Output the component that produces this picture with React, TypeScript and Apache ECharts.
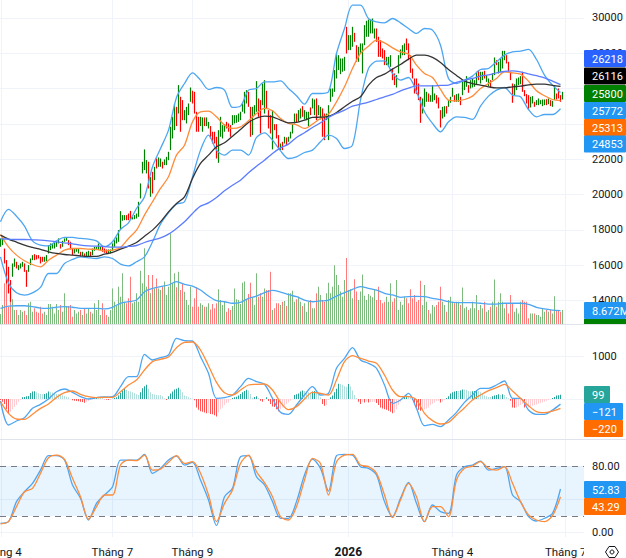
import React, { useEffect, useRef } from "react";
import * as echarts from "echarts";

// price bars: high, low, direction (g = up, r = down)
const highs = [
17510,17565,16940,16280,15905,15150,16095,16375,16190,16000,
16095,16190,16095,15715,16000,16375,16565,16620,16565,16565,
16470,16470,16470,16565,17130,17225,17225,17260,17320,17510,
17190,17375,17510,17565,17415,17320,16940,16940,16940,16940,
16755,16755,16660,16755,16810,16755,16940,17035,17035,17225,
17075,17075,16940,16885,16885,16885,17225,17415,17565,17980,
19055,18830,18830,18830,18920,19070,18735,18830,18920,19585,
20625,21850,22550,21945,21850,20990,21280,21565,22035,22095,
22035,21850,21980,22130,22415,23830,24395,25110,24960,26190,
25530,25340,24775,24960,25150,26055,25870,25810,24680,24395,
24395,24360,24360,24360,24110,23870,23550,23550,23265,23640,
24395,23925,23980,24110,24020,23925,24490,24490,24490,24580,
24680,25150,25810,25905,25810,24960,24960,25055,26415,25435,
25340,26280,26470,25870,24775,24490,24775,23980,23980,23360,
22885,22980,23265,23225,23265,23550,23980,24580,24580,24775,
24870,25000,24775,24680,24680,24925,25435,25375,25435,25055,
24960,24870,24580,24580,25055,26000,26000,27040,27980,27885,
27700,27700,27790,29490,29020,29020,29490,29150,28450,28360,
28550,28550,29585,29830,29905,29905,29960,29395,29395,28925,
28735,28265,28170,27790,27790,27885,27130,26850,26755,27885,
28210,28450,28550,28830,28550,27885,27130,26565,26565,26280,
25530,25435,26000,25810,25715,25620,26190,25715,25620,25490,
24775,24960,25000,25000,25340,25530,26035,25620,25680,25715,
25530,26470,26375,26700,26190,26470,26565,26470,26945,27040,
26945,26945,27000,26755,26565,26470,26850,27755,27600,27510,
27700,28130,28130,27885,27510,26945,26280,26245,26565,26620,
26700,26945,25905,25680,25620,25530,25565,25245,25340,25435,
25340,25375,25375,25395,25435,25340,25300,26190,25715,26000,
25620,25810];
const lows = [
17035,17130,16095,14960,14395,13920,15340,15905,15810,15715,
15810,15905,15620,14770,15620,16000,16280,16280,16320,16375,
16095,16190,16190,16225,16660,16850,16940,16940,17035,17225,
16940,17035,17320,17375,17130,16885,16565,16660,16755,16660,
16470,16510,16430,16470,16510,16470,16565,16810,16850,16850,
16850,16755,16700,16660,16660,16660,16810,17035,17225,17320,
17980,18510,18545,18545,18545,18585,18585,18600,18640,18735,
19775,21190,21380,21190,20340,19870,20055,20810,21470,21565,
21565,21470,21660,21660,21940,22510,23170,23640,23870,24580,
23550,24205,24205,24020,24490,25245,25150,24580,23550,23550,
23870,23550,23870,23870,23735,23170,22885,22885,22035,21790,
23265,23170,23550,23735,23550,23265,23925,24020,24055,24110,
24205,24680,24580,25150,24960,23265,23360,24490,24680,24395,
23450,25055,24580,24870,23735,23450,22550,23640,23170,22600,
22510,22510,22885,22790,22980,23170,23450,24020,24055,24110,
24300,24395,24245,24205,23870,24490,24870,24490,24205,24490,
24245,23265,23075,24205,23075,25245,25530,25810,26565,27040,
26810,26945,27000,27980,28170,28170,28360,28640,27510,27510,
27980,26850,28450,28925,28925,29115,29115,28830,28640,27790,
27790,27700,27320,27320,27225,27225,26470,26190,26055,26850,
27700,27885,27885,28170,27600,26885,26565,25715,25680,25340,
24055,24580,24960,25245,25245,25245,25245,25340,25150,24870,
23790,24300,24395,24580,24960,25190,25530,25245,25245,25245,
25055,25620,25905,26095,25755,26000,26055,26095,26190,26470,
26280,26470,26565,26375,26130,26055,26470,26755,27320,26850,
26945,27130,27600,27415,26945,26470,25190,25620,25905,26190,
26245,25810,25565,25150,24810,24925,25150,24960,25055,25055,
25110,25000,25055,25055,25110,25000,24960,25340,25375,25435,
25245,25375];
const directions = [
"ggrrrrggrg","ggrrgggrrr","rrgggggggg","rgggrrrggg","rgrggrgggg",
"grrrgggggg","gggrrrgggg","ggggrgrgrg","grggggggrg","rrggggrrrr",
"ggrggrrrrg","gggrrrgggg","ggggrrgggr","rggrrrgrrr","grgrggggrg",
"grgggrggrg","grrggggggg","gggrgggrrg","ggggggggrr","rrrgggrrgg",
"gggrrrrrrr","rgggrgggrr","rggrgggrgg","rgggrggggr","ggrggrggrg",
"gggrrrrggg","grrrrggrgg","gggrgrggrr","rg",
].join("");

// volume, millions
const volumes = [
6.5,12.4,26.5,41.7,11.3,28.6,16.1,9.1,9.1,5.9,
9.1,8,8.7,5.9,13.5,14.5,8,10.2,8,7.4,
11.3,6.9,8,5.9,13,13,11.3,6.9,13,9.1,
12.4,8,20,11.7,11.7,12.4,4.8,9.1,6.9,8,
9.1,5.9,10.2,6.9,10.2,8,6.9,13.5,9.1,15.6,
5.9,13.5,9.1,5.9,4.8,9.1,23.2,14.5,11.7,24.3,
17.8,33,14.5,13.5,16.7,30.8,13.5,14.5,20,14.5,
34.7,26.5,49.3,24.3,31.9,20,31.9,23.2,29.7,23.2,
22.1,24.3,27.6,18.9,24.3,59,26.5,33,23.9,34.1,
22.1,26.5,21,15.6,12.4,24.3,11.3,16.7,23.9,11.3,
13.5,12.4,11.3,11.3,13.5,9.5,13,10.2,13.5,22.6,
15.6,12.4,14.5,8,10.2,9.1,11.7,23.2,16.1,15.6,
13,26.9,27.6,15.6,19.5,26.9,17.4,12.4,33,17.8,
20,17.8,23.2,22.1,22.1,34.1,9.1,10.2,13.5,13.5,
12.4,14.5,14.9,11.7,20,20,21.7,14.5,16.1,17.8,
14.5,11.7,13.5,8,14.5,15.6,10.2,10.2,20,24.3,
18.9,15.6,14.5,20,26.9,20,24.3,38.2,31.9,25.4,
21.2,17.8,28.6,43,22.1,22.6,16.7,29.1,21.2,15.6,
21.2,32.3,18.4,15.6,19.5,18.4,17.4,22.1,15.6,24.3,
15.6,13.5,14.5,17.8,14.5,26.5,14.5,16.7,28.6,9.1,
14.5,12.4,17.8,16.7,13.5,22.6,16.7,18.9,14.5,15.6,
28.2,12.4,25.4,14.5,9.1,6.9,12.4,11.3,12.4,14.5,
24.3,14.5,12.4,8,15.6,17.8,14.5,13.5,14.5,14.5,
12.4,23.7,10.2,11.3,9.1,10.2,14.5,10.2,18.9,9.1,
12.4,10.2,14.5,8,9.1,11.3,14.5,29,11.3,14.5,
20,14.5,10.2,13.5,6.9,18.9,13.5,8,10.2,6.9,
14.5,15.6,14.5,14.5,3.7,6.9,6.9,6.9,5.9,5.9,
4.8,10.2,8,9.1,8,9.1,6.9,18,9.1,8.7,
8,9.1];

// overlays, one reading every fourth bar
const bbUpper = [
18450,19150,18770,18210,17375,17130,17090,17375,17565,17565,17510,17470,17375,17035,17320,18020,18395,19205,19870,21565,22600,23640,25490,26280,26885,26470,
25945,26055,25905,24925,25000,25905,26000,26375,26375,26430,26000,25585,25110,25715,25715,25810,27980,29395,30715,30715,29960,29775,29715,29960,29715,
29395,29115,29395,29300,28450,26565,26280,26470,26700,27075,27130,27510,27885,28075,28115,28210,27640,26755,26190,25772];
const bbLower = [
16470,14990,14430,14300,14430,14735,15525,15525,16095,16320,16470,16415,16375,16470,16375,16055,15960,16190,16470,17320,18320,18960,19450,19585,21000,22510,
23360,22510,22225,22510,22510,22225,23225,23490,23075,22470,22035,22130,22375,22510,22980,23360,23170,22600,22790,25340,27130,27545,27565,26850,26470,
26620,25810,24680,24020,23545,24110,24395,24360,24245,25000,25565,25905,26055,25620,25530,24810,24395,24525,24525,24853];
const ma20 = [
17735,17035,16565,16245,16035,15905,16280,16565,16850,16940,16940,16905,16885,16810,16850,17000,17510,17980,18830,19585,20340,21000,22225,22790,24110,24680,
24715,24395,23925,23735,23830,24170,24585,24870,24735,24300,24020,23945,23735,23980,24300,24545,25245,26095,27130,27980,28395,28735,28585,28300,28075,
27945,27320,26850,26620,25945,25340,25300,25375,25565,26000,26280,26565,26945,26885,26810,26415,25865,25585,25375,25313];
const ma50 = [
17695,17470,17300,17130,17000,16885,16755,16660,16600,16565,16525,16490,16490,16620,16715,16905,17075,17280,17640,17980,18450,19015,19490,19865,20905,21755,
22225,22700,22925,23300,23680,24075,24320,24435,24395,24205,24055,24075,24205,24360,24375,24415,24640,24960,25280,25530,26190,26620,26810,27095,27360,
27660,27885,27885,27755,27470,27075,26735,26415,26280,26190,26095,26035,26035,26095,26130,26205,26245,26245,26170,26116];
const ma200 = [
17490,17470,17450,17450,17430,17415,17375,17320,17260,17205,17130,17090,17075,17055,17015,17015,17055,17110,17280,17415,17545,17755,18075,18450,18925,19340,
19525,19830,20205,20525,20810,21225,21600,21940,22320,22640,22850,23225,23490,23790,24055,24360,24585,24775,25000,25110,25225,25375,25530,25660,25865,
26020,26150,26150,26150,26170,26190,26340,26470,26565,26700,26770,26885,26960,27000,26945,26830,26720,26605,26415,26218];
const volumeMa = [
10.2,11.7,11.9,11.9,11.3,10.4,10.2,10.9,11.3,10.9,10.2,10.2,10.2,9.8,10.9,13.5,14.5,15.6,21,23.2,24.3,25.4,27.6,25.8,24.7,22.1,
18.2,15.2,14.5,13.5,14.1,16.7,18.2,20.4,21.9,20.8,19.1,17.8,15.6,14.5,15,15.6,18.2,20.4,22.6,24.3,23.2,22.1,20,18.9,17.4,
17.8,18,17.8,16.7,15.8,14.5,13.9,13.9,13.9,13.5,13,13,13.5,13.5,13.5,12.8,10.9,9.8,9.1,8.672];

// MACD
const macdLine = [
-47,-615,-520,-441,-221,-126,0,173,236,158,55,0,32,47,55,292,528,528,1056,922,977,1040,1434,1379,1371,1001,607,16,32,95,292,489,410,347,16,-315,-362,-142,95,
292,95,134,725,961,1214,922,843,725,331,-102,-24,134,-221,-630,-599,-654,-496,-315,-79,95,252,252,331,426,16,16,-260,-362,-362,-260,-121];
const macdSignal = [
-63,-339,-473,-481,-362,-221,-118,39,150,189,110,55,32,39,39,173,331,449,686,883,938,993,1214,1340,1347,1158,788,394,150,95,213,331,347,355,213,-79,-252,-181,0,
158,134,95,449,883,1024,961,898,843,567,213,55,55,-24,-339,-512,-591,-552,-378,-205,-24,95,197,268,347,189,16,-158,-299,-323,-284,-220];
const macdHist = [
-24,-64,-120,-240,-336,-304,-240,-192,-144,-64,
-16,40,48,64,72,144,176,184,160,136,
120,112,120,136,176,160,152,144,120,112,
96,88,72,56,40,0,-32,-40,-48,-56,
-64,-72,-88,-64,-48,-24,-8,24,32,32,
24,16,-8,-16,-24,-16,8,24,40,80,
144,208,240,216,192,176,160,144,112,96,
160,256,304,336,240,160,120,104,96,88,
88,64,16,-24,64,128,176,224,240,264,
224,160,80,64,40,24,8,-32,-200,-256,
-288,-304,-320,-336,-336,-352,-360,-384,-416,-320,
-240,-200,-144,-96,-80,-24,24,40,56,80,
120,160,192,216,200,120,32,48,64,24,
-40,-64,-24,40,-48,-120,-176,-192,-240,-288,
-240,-200,-160,-120,-80,-40,-8,96,112,128,
176,200,192,184,160,144,176,192,160,128,
40,-120,-160,-144,-24,40,80,160,240,360,
352,336,304,288,352,304,200,96,16,-64,
-120,-64,-80,-64,-80,-72,-64,-64,-96,-144,
-200,-224,-240,-256,-280,-304,-336,-320,-240,-144,
-64,24,48,80,72,40,-24,-96,-200,-256,
-280,-256,-240,-224,-200,-144,-112,-80,-48,-40,
-80,-64,-24,24,64,128,160,176,192,192,
200,224,224,216,192,176,184,192,208,192,
160,120,80,64,48,48,64,80,96,112,
96,112,96,48,16,-40,-200,-208,-200,-176,
-144,-120,-200,-200,-200,-176,-160,-144,-128,-112,
-96,-80,-64,-40,-24,-8,24,48,80,88,99];

// Stochastic
const stochK = [
11,13,37.4,49.5,59.7,75.9,93.4,93.4,88.1,57.7,41.4,15,35.3,45.5,55.6,88.1,88.1,88.1,95,71.9,78,88.1,93,82,85.3,63.7,39.4,8.1,43.4,53.6,92.2,93.4,67.8,57.7,37.4,17.1,17.1,37.4,69.8,
89.3,78,50.3,93.4,95,94.2,80,78,69.8,37.4,19.1,41.4,60.9,35.3,13,33.3,25.2,23.1,69.8,80,82,86.9,75.9,78,80,45.5,37.4,19.1,13.8,17.1,23.1,52.83];
const stochD = [
10.2,13,31.3,49.5,53.6,71.9,90.9,94.2,88.9,65.8,43.4,16.2,31.3,45.5,45.5,82,88.1,87.3,94.2,75.9,77.1,85.3,93.4,84,86.1,71.9,45.5,13,35.3,51.6,84,94.2,73.9,60.5,43.4,19.1,15,31.3,63.7,
90.1,84,45.5,86.1,94.2,95,82,80,71.9,45.5,17.9,39.4,59.7,43.4,13,31.3,31.3,19.1,63.7,78,80.8,86.1,78,75.9,80,59.7,37.4,21.1,15,13,20.3,43.29];
const stochBands = [80, 20];

// time axis: position in bars and its label
const timeTicks = [0.5, 56.15, 96.15, 174.15, 226.15, 282.85];
const timeLabels = ["Tháng 4", "Tháng 7", "Tháng 9", "2026", "Tháng 4", "Tháng 7"];

// axis labels that sit wholly behind a last-value tag in the picture
const hiddenPriceLabels = [26000, 24000];
const hiddenMacdLabels = [0];
const hiddenStochLabels = [40];

// last-value tags
const priceTagTexts = ["26218", "26116", "25800", "25772", "25313", "24853"];
const priceTagColors = ["#2962ff", "#000000", "#008000", "#2196f3", "#ff6d00", "#2196f3"];
const macdTagTexts = ["99", "−121", "−220"];
const macdTagColors = ["#26a69a", "#2196f3", "#ff6d00"];
const stochTagTexts = ["52.83", "43.29"];
const stochTagColors = ["#2196f3", "#ff6d00"];

const FONT = "Roboto, Arial, sans-serif";
const INK = "#131722";
const GRID = "#f0f3fa";
const BAR_SLOTS = 292;
const SAMPLE_STEP = 4;
const BAR_OFFSET = 0.25;

const sampled = (values: number[]) => values.map((v, i) => [i * SAMPLE_STEP + BAR_OFFSET, v]);

function tag(x: number, y: number, w: number, h: number, fill: string, text: string) {
  return [
    { type: "rect", z: 100, silent: true, shape: { x, y, width: w, height: h, r: 1 }, style: { fill } },
    {
      type: "text", z: 101, silent: true,
      style: { x: x + 8, y: y + h / 2 + 0.5, text, fill: "#ffffff", font: `11px ${FONT}`, verticalAlign: "middle", align: "left" },
    },
  ];
}

function buildOption() {
  const rect = (top: number, height: number) => ({
    left: 0, width: 584, top, height, containLabel: false, outerBoundsMode: "none",
  });
  const hiddenX = (gridIndex: number) => ({ type: "value", gridIndex, min: 0, max: BAR_SLOTS, show: false });

  const line = (data: number[], x: number, y: number, color: string, extra: object = {}) => ({
    type: "line", xAxisIndex: x, yAxisIndex: y, data: sampled(data), showSymbol: false, symbol: "none",
    smooth: 0.3, silent: true, lineStyle: { color, width: 1.3 }, z: 5, ...extra,
  });

  const candles = highs.map((h, i) => {
    const up = directions[i] === "g";
    return [i + BAR_OFFSET, up ? lows[i] : h, up ? h : lows[i], lows[i], h];
  });
  const volumeBars = volumes.map((v, i) => ({
    value: [i + BAR_OFFSET, v],
    itemStyle: { color: directions[i] === "g" ? "#7dba7d" : "#ff7b7b" },
  }));
  const histBars = macdHist.map((v, i) => {
    const prev = i ? macdHist[i - 1] : 0;
    const color = v >= 0 ? (v > prev ? "#26a69a" : "#b2dfdb") : v < prev ? "#ff5252" : "#ffcdd2";
    return { value: [i + BAR_OFFSET, v], itemStyle: { color } };
  });

  const graphicEls: any[] = [];
  priceTagTexts.forEach((t, i) => {
    const tops = [50, 67.5, 85, 102, 119, 135.5];
    graphicEls.push(...tag(584, tops[i], 42, 17, priceTagColors[i], t));
  });
  graphicEls.push({ type: "rect", z: 99, silent: true, shape: { x: 584, y: 319, width: 42, height: 5 }, style: { fill: "#008000" } });
  graphicEls.push(...tag(584, 302, 42, 17, "#2196f3", "8.672M"));
  macdTagTexts.forEach((t, i) => {
    const tops = [386, 403, 420];
    const widths = [26, 39, 39];
    graphicEls.push(...tag(584, tops[i], widths[i], 17, macdTagColors[i], t));
  });
  stochTagTexts.forEach((t, i) => {
    const tops = [481, 498];
    graphicEls.push(...tag(584, tops[i], 42, 17, stochTagColors[i], t));
  });
  [324.5, 439.5].forEach((y) =>
    graphicEls.push({ type: "line", z: 90, silent: true, shape: { x1: 0, y1: y, x2: 626, y2: y }, style: { stroke: "#e0e3eb", lineWidth: 1 } })
  );
  graphicEls.push({ type: "rect", z: 95, silent: true, shape: { x: 584, y: 538, width: 42, height: 20 }, style: { fill: "#ffffff" } });
  graphicEls.push({
    type: "polygon", z: 96, silent: true,
    shape: { points: [[609, 546.5], [615, 546.5], [618.5, 552], [615, 557.5], [609, 557.5], [605.5, 552]] },
    style: { fill: "none", stroke: INK, lineWidth: 1 },
  });
  graphicEls.push({
    type: "circle", z: 96, silent: true, shape: { cx: 612, cy: 552, r: 2 },
    style: { fill: "none", stroke: INK, lineWidth: 1 },
  });

  const plainLabel = (hidden: number[]) => (v: number) => (hidden.includes(v) ? "" : String(v));

  return {
    animation: false,
    backgroundColor: "#ffffff",
    textStyle: { fontFamily: FONT },
    grid: [rect(0, 537), rect(-17.53, 353.3), rect(0, 324), rect(314.4, 126.9), rect(433.9, 98.4)],
    xAxis: [
      {
        type: "value", gridIndex: 0, min: 0, max: BAR_SLOTS, position: "bottom",
        axisLine: { show: false },
        axisTick: { show: false, customValues: timeTicks },
        splitLine: { show: true, lineStyle: { color: GRID, width: 1 } },
        axisLabel: {
          show: true, customValues: timeTicks, margin: 9, color: INK, fontSize: 11.5, fontFamily: FONT,
          hideOverlap: false, showMinLabel: true, showMaxLabel: true,
          formatter: (value: number) => {
            const label = timeLabels[timeTicks.indexOf(value)] ?? "";
            return /^\d+$/.test(label) ? `{b|${label}}` : label;
          },
          rich: { b: { fontWeight: "bold", fontSize: 12, color: INK, fontFamily: FONT } },
        },
      },
      hiddenX(1), hiddenX(2), hiddenX(3), hiddenX(4),
    ],
    yAxis: [
      { type: "value", gridIndex: 0, min: 0, max: 1, show: false },
      {
        type: "value", gridIndex: 1, min: 12000, max: 32000, interval: 2000, position: "right",
        axisLine: { show: false }, axisTick: { show: false },
        splitLine: { show: true, showMinLine: false, showMaxLine: false, lineStyle: { color: GRID } },
        axisLabel: { margin: 8, color: INK, fontSize: 11, fontFamily: FONT, showMinLabel: false, showMaxLabel: false, formatter: plainLabel(hiddenPriceLabels) },
      },
      { type: "value", gridIndex: 2, min: 0, max: 211, show: false },
      {
        type: "value", gridIndex: 3, min: -1000, max: 2000, interval: 1000, position: "right",
        axisLine: { show: false }, axisTick: { show: false },
        splitLine: { show: true, showMinLine: false, showMaxLine: false, lineStyle: { color: GRID } },
        axisLabel: { margin: 8, color: INK, fontSize: 11, fontFamily: FONT, showMinLabel: false, showMaxLabel: false, formatter: plainLabel(hiddenMacdLabels) },
      },
      {
        type: "value", gridIndex: 4, min: 0, max: 120, interval: 40, position: "right",
        axisLine: { show: false }, axisTick: { show: false },
        splitLine: { show: true, showMaxLine: false, lineStyle: { color: GRID } },
        axisLabel: {
          margin: 8, color: INK, fontSize: 11, fontFamily: FONT, showMaxLabel: false,
          formatter: (v: number) => (hiddenStochLabels.includes(v) ? "" : v.toFixed(2)),
        },
      },
    ],
    series: [
      {
        type: "bar", xAxisIndex: 2, yAxisIndex: 2, data: volumeBars, barWidth: 1, silent: true, z: 1,
      },
      line(volumeMa, 2, 2, "#4da6f2"),
      {
        ...line(bbLower, 1, 1, "transparent"),
        stack: "bb", lineStyle: { width: 0, opacity: 0 }, z: 2,
      },
      {
        ...line(bbUpper.map((u, i) => u - bbLower[i]), 1, 1, "transparent"),
        stack: "bb", lineStyle: { width: 0, opacity: 0 }, areaStyle: { color: "rgba(33,150,243,0.05)", opacity: 1 }, z: 2,
      },
      line(bbUpper, 1, 1, "#4da6f2"),
      line(bbLower, 1, 1, "#4da6f2"),
      {
        type: "candlestick", xAxisIndex: 1, yAxisIndex: 1, data: candles, barWidth: 0.1, barMinWidth: 0.1, silent: true, z: 4,
        encode: { x: 0, y: [1, 2, 3, 4] },
        itemStyle: { color: "#008000", color0: "#ff0000", borderColor: "#008000", borderColor0: "#ff0000", borderWidth: 1.2 },
      },
      line(ma20, 1, 1, "#ff8c3a"),
      line(ma50, 1, 1, "#333333"),
      line(ma200, 1, 1, "#5b7cff"),
      {
        type: "bar", xAxisIndex: 3, yAxisIndex: 3, data: histBars, barWidth: 1, silent: true, z: 1,
      },
      line(macdLine, 3, 3, "#4da6f2"),
      line(macdSignal, 3, 3, "#ff8c3a"),
      {
        ...line(stochK, 4, 4, "#4da6f2"),
        markArea: {
          silent: true,
          itemStyle: { color: "rgba(33,150,243,0.1)" },
          data: [[{ yAxis: stochBands[0] }, { yAxis: stochBands[1] }]],
        },
        markLine: {
          silent: true, symbol: "none", label: { show: false },
          lineStyle: { color: "#787b86", type: [6, 5], width: 1 },
          data: stochBands.map((b) => ({ yAxis: b })),
        },
      },
      line(stochD, 4, 4, "#ff8c3a"),
    ],
    graphic: { elements: graphicEls },
  };
}

export default function App() {
  const ref = useRef<HTMLDivElement>(null);
  useEffect(() => {
    if (!ref.current) return;
    const chart = echarts.init(ref.current, undefined, { renderer: "svg", width: 626, height: 558 });
    chart.setOption(buildOption() as any);
    return () => chart.dispose();
  }, []);
  return <div ref={ref} style={{ position: "fixed", left: 0, top: 0, width: 626, height: 558 }} />;
}
